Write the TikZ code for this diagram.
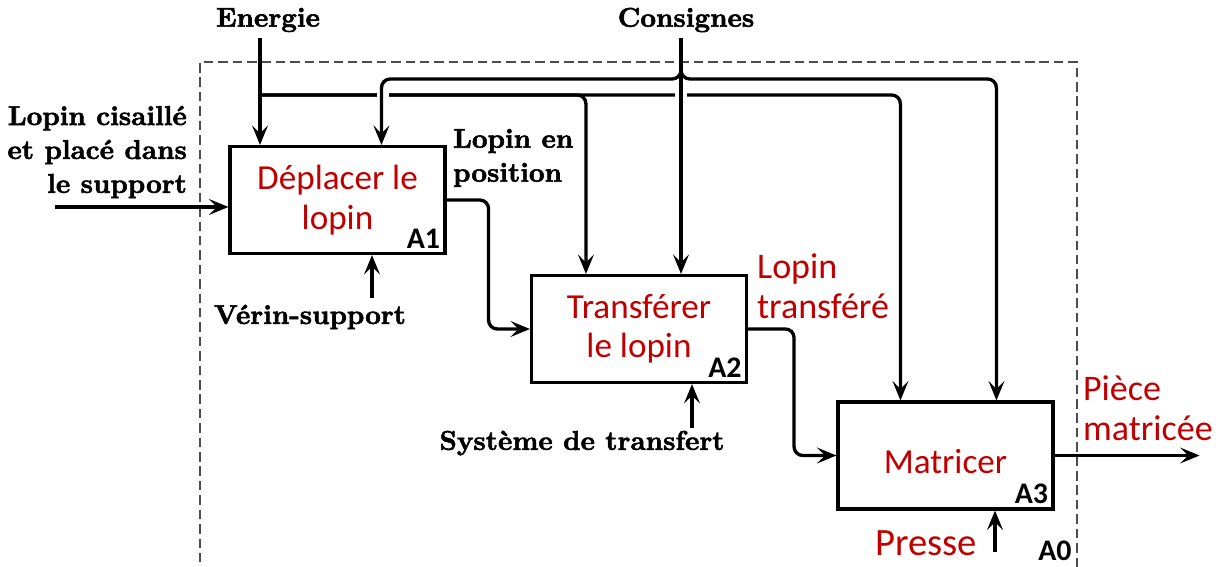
\documentclass[tikz,border=0pt]{standalone}
\usepackage{fontspec}
\newfontfamily\boxfont{Carlito}
\newfontfamily\labfont{lmroman10-bold}[Extension=.otf, FakeBold=2]
\usetikzlibrary{arrows.meta,calc,positioning}
\definecolor{boxred}{RGB}{192,0,0}

\begin{document}
\begin{tikzpicture}[x=0.02cm,y=-0.02cm,
  activity/.style={draw, line width=1.8pt, minimum width=4.3cm, minimum height=2.14cm,
    align=center, text=boxred, font=\boxfont\fontsize{20}{22.5}\selectfont,
    execute at begin node=\rule{0pt}{21pt}},
  num/.style={font=\boxfont\bfseries\fontsize{17}{19}\selectfont, inner sep=3.5pt, anchor=south east},
  lab/.style={font=\labfont\fontsize{15.5}{19.3}\selectfont, align=center, inner sep=1pt},
  redlab/.style={text=boxred, font=\boxfont\fontsize{20.5}{22.5}\selectfont, align=left, inner sep=1pt},
  flow/.style={line width=1.9pt, rounded corners=5pt, -{Stealth[length=11pt,width=9pt,inset=4.5pt]}},
  frame/.style={draw=black!70, line width=0.85pt, dash pattern=on 5.4pt off 2.8pt}]
\useasboundingbox (0,0) rectangle (1219,567);
%\draw[help lines] (0,0) grid[step=1cm] (1219,567);
\draw[frame] (1077,567) |- (200,62) -- (200,567);

\node[activity] (A1) at (337.5,200) {Déplacer le\\lopin};
\node[activity] (A2) at (639,329) {Transférer\\le lopin};
\node[activity] (A3) at (945.5,455.5) {Matricer};
\node[num] (nA1) at (A1.south east) {A1};
\node[num] (nA2) at (A2.south east) {A2};
\node[num] (nA3) at (A3.south east) {A3};
\node[num] (nA0) at (1078,567) {A0};

\node[lab] (energie) at (268,20) {Energie};
\node[lab] (consignes) at (686,20) {Consignes};
\node[lab, align=right, anchor=east] (entree) at (189,152) {Lopin cisaillé\\et placé dans\\le support};
\node[lab, align=left, anchor=west] (position) at (451,158) {Lopin en\\position};
\node[lab] (verin) at (310,317) {Vérin-support};
\node[lab] (systeme) at (582,443) {Système de transfert};
\node[redlab, anchor=west] (transfere) at (755,286) {Lopin\\transféré};
\node[redlab, anchor=west] (piece) at (1081,408) {Pièce\\matricée};
\node[text=boxred, font=\boxfont\fontsize{22}{25}\selectfont] (presse) at (926,543) {Presse};

\coordinate (e0) at (260,38);
\coordinate (ebus) at (260,95);
\coordinate (c0) at (681,38);
\coordinate (cj) at (681,62);
\coordinate (cbus) at (681,79);
\coordinate (ca1) at ($(A1.north west)+(153,0)$);
\coordinate (ca3) at ($(A3.north west)+(160,0)$);
\coordinate (ea2) at ($(A2.north west)+(56,0)$);
\coordinate (ea3) at ($(A3.north west)+(64,0)$);
\coordinate (in) at (55,207);
\coordinate (m1) at (372,298);
\coordinate (m2) at (692,428);
\coordinate (m3) at (995,552);

% energie
\draw[flow] (e0) -- (e0 |- A1.north);
\draw[flow] (ebus) -| (ea2);
\draw[flow] (ebus) -| (ea3);
\fill[white] (377,88) rectangle (389,102);
\fill[white] (675,88) rectangle (687,102);

% consignes
\draw[flow] (c0) -- (c0 |- A2.north);
\draw[flow] (cj) |- (ca1 |- cbus) -- (ca1);
\draw[flow] (cj) |- (ca3 |- cbus) -- (ca3);

\draw[flow] (in) -- (in -| A1.west);
\draw[flow] (A1.east) -- ++(42,0) |- (A2.west);
\draw[flow] (A2.east) -- ++(46,0) |- (A3.west);
\draw[flow] (A3.east) -- ++(145,0);

\draw[flow] (m1) -- (m1 |- A1.south);
\draw[flow] (m2) -- (m2 |- A2.south);
\draw[flow] (m3) -- (m3 |- A3.south);
\end{tikzpicture}
\end{document}
